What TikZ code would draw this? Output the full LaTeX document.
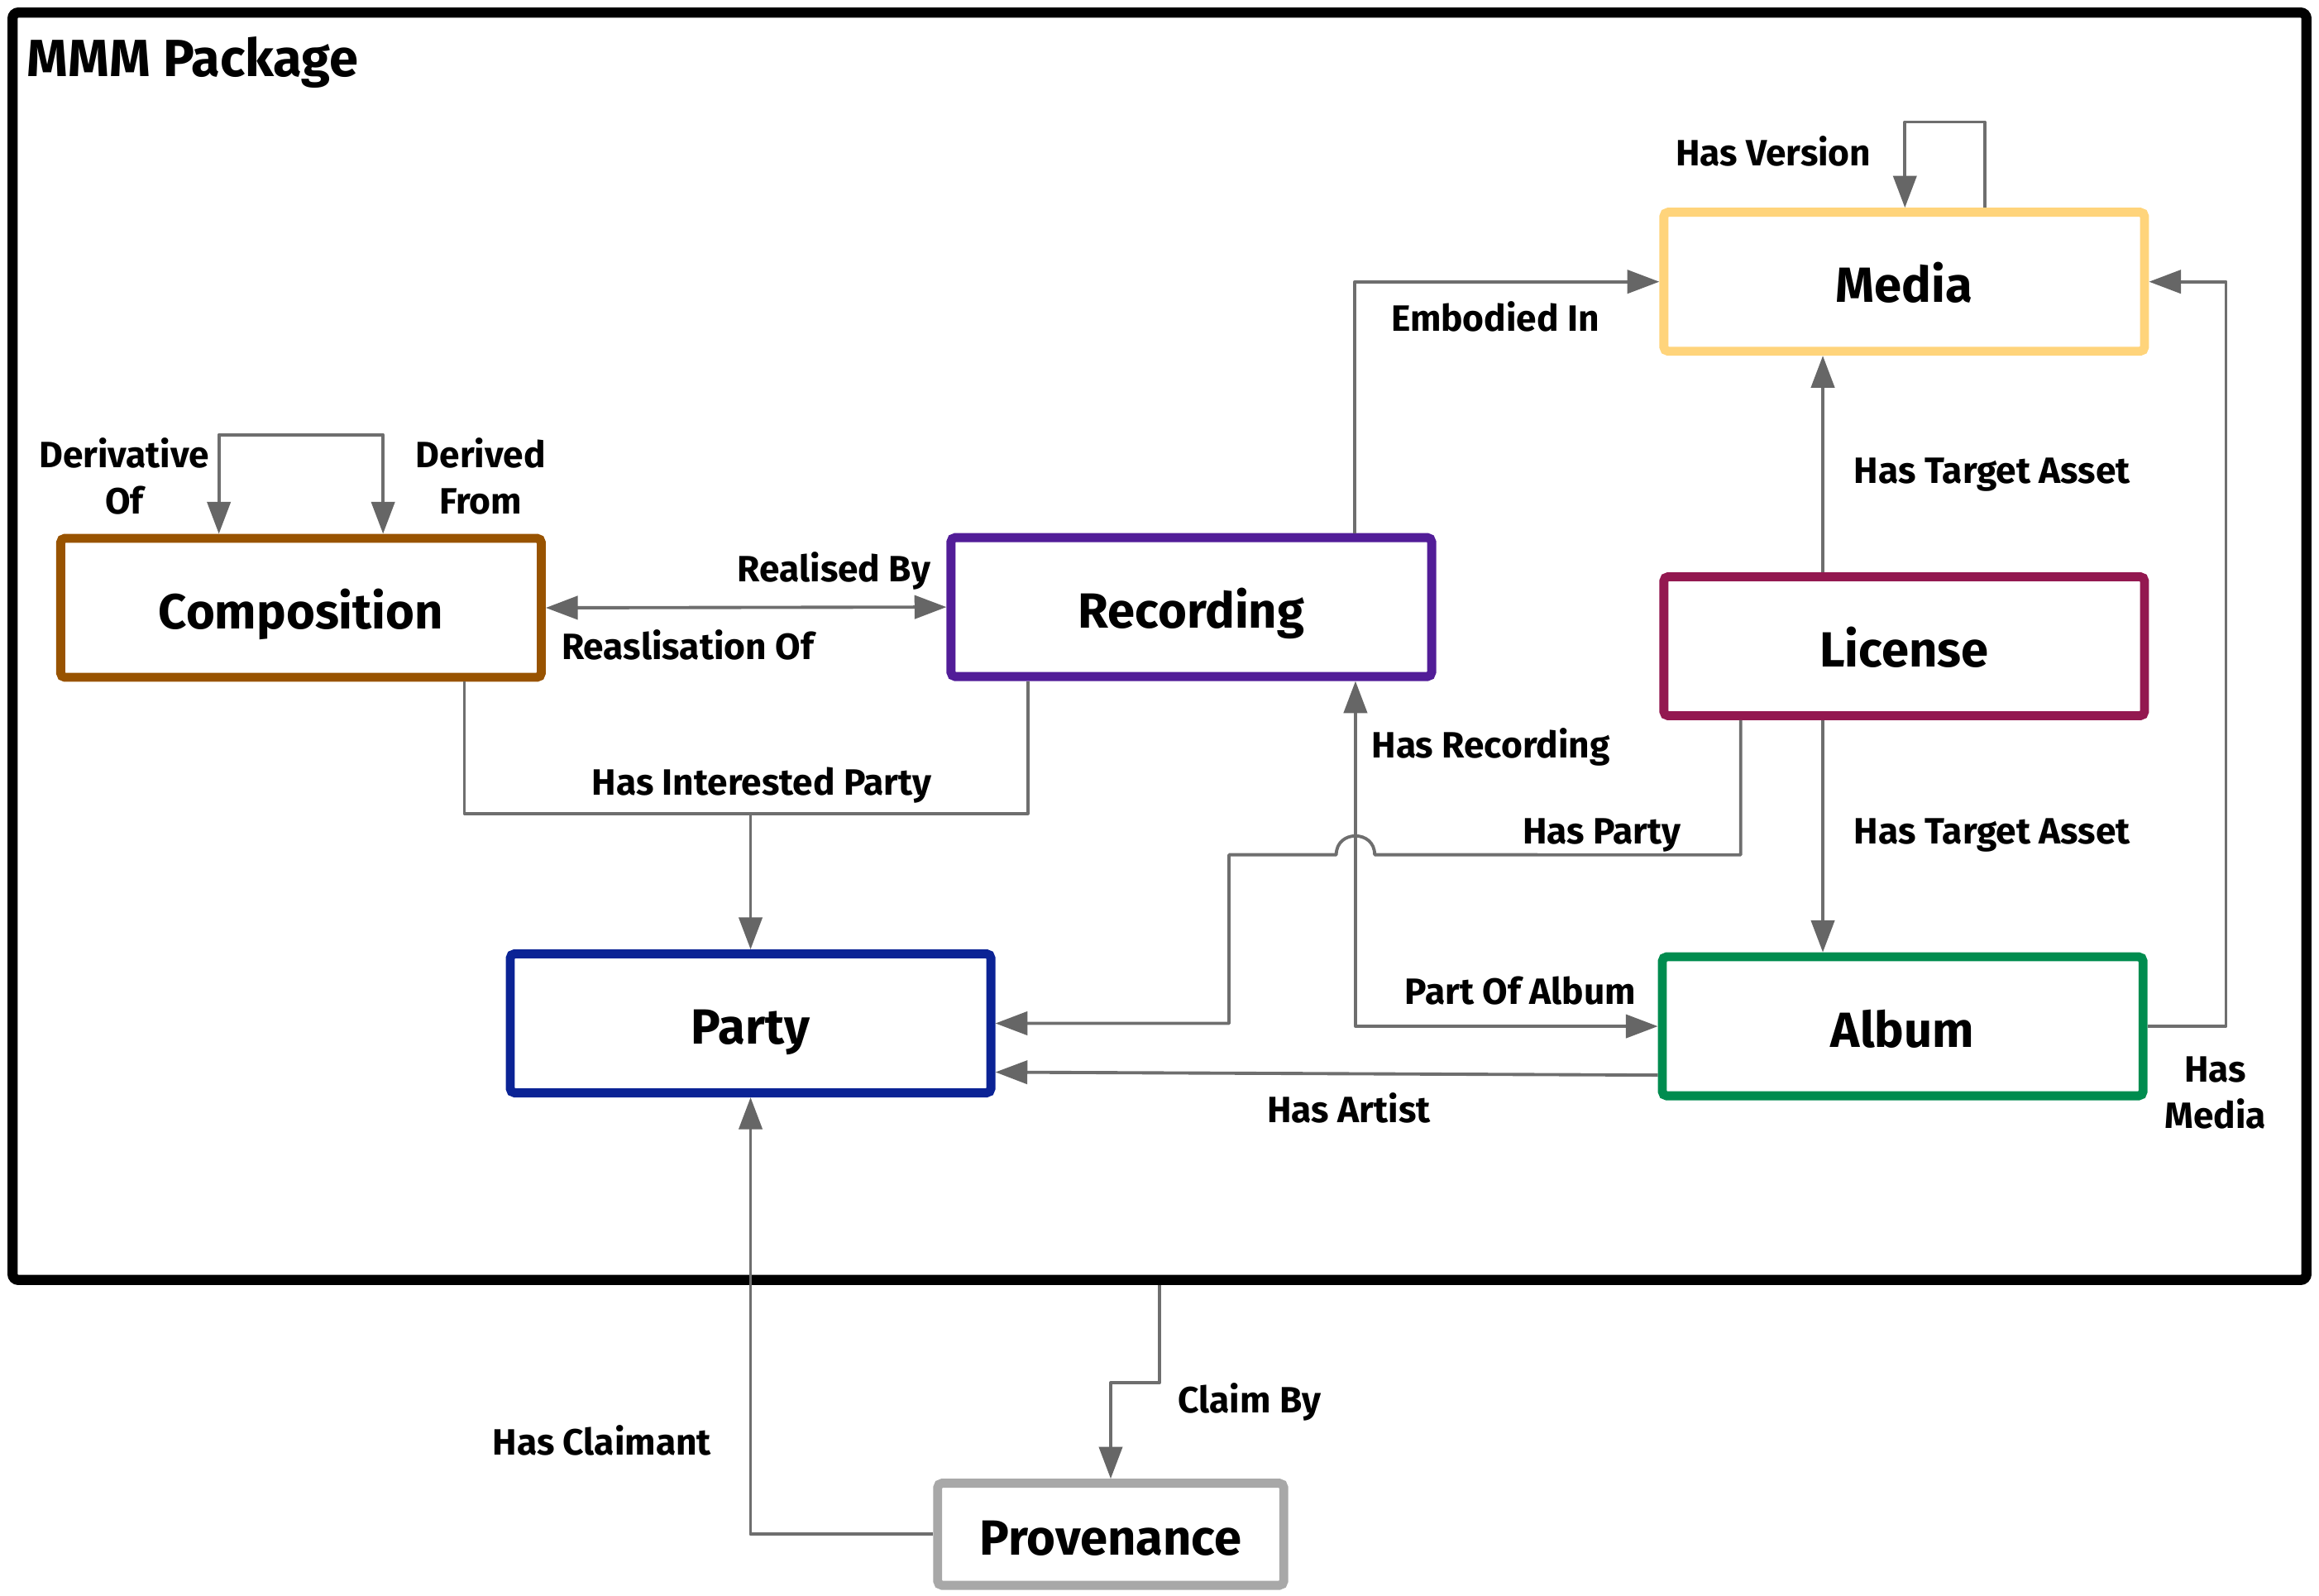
\documentclass[tikz,border=0pt]{standalone}
\usepackage{fontspec}
\setmainfont{Fira Sans}
\usetikzlibrary{arrows.meta,calc}
\def\sc{0.017883}
\definecolor{cMedia}{HTML}{FFD47B}
\definecolor{cComp}{HTML}{985300}
\definecolor{cRec}{HTML}{521D98}
\definecolor{cLic}{HTML}{931850}
\definecolor{cParty}{HTML}{0B2395}
\definecolor{cAlbum}{HTML}{008C4F}
\definecolor{cProv}{HTML}{A8A8A8}
\definecolor{cLine}{HTML}{6E6E6E}
\definecolor{cTip}{HTML}{666666}
\tikzset{
  entity/.style={draw, line width=3.1pt, rounded corners=1.5pt, fill=white,
    minimum width=325*\sc cm, minimum height=94*\sc cm, inner sep=0pt,
    text height=14.3pt, text depth=0pt,
    font=\fontsize{17}{20}\selectfont\bfseries},
  conn/.style={draw=cLine, line width=1.1pt, line join=round,
    -{Triangle[length=11pt,width=8pt,color=cTip]}},
  conn2/.style={draw=cLine, line width=1.1pt, line join=round,
    {Triangle[length=11pt,width=8pt,color=cTip]}-{Triangle[length=11pt,width=8pt,color=cTip]}},
  plain/.style={draw=cLine, line width=1.1pt, line join=round},
  lbl/.style={font=\fontsize{12.6}{16}\selectfont\bfseries, align=center, inner sep=0pt, yshift=-2*\sc cm},
}
\begin{document}
\begin{tikzpicture}[x=\sc cm, y=-\sc cm]
\useasboundingbox (0,0) rectangle (1568,1079);
% package frame
\node[draw=black, line width=3.5pt, rounded corners=2pt, minimum width=1551*\sc cm,
  minimum height=857*\sc cm, inner sep=0pt] (pkg) at (784,437) {};
\node[anchor=west, font=\fontsize{18}{22}\selectfont\bfseries, inner sep=0pt] (title) at (18,42) {MMM Package};
% entities
\node[entity, draw=cMedia] (media) at (1287.5,190.5) {Media};
\node[entity, draw=cComp] (comp) at (203.5,411) {Composition};
\node[entity, draw=cRec] (rec) at (805.5,410.5) {Recording};
\node[entity, draw=cLic] (lic) at (1287.5,437) {License};
\node[entity, draw=cParty] (party) at (507.5,692) {Party};
\node[entity, draw=cAlbum] (album) at (1286.5,694) {Album};
\node[entity, draw=cProv, minimum width=234*\sc cm, minimum height=69*\sc cm] (prov) at (751,1037.5) {Provenance};
% connectors
\draw[conn] ($(media.north)+(54.5,0)$) -- ++(0,-58) -| ($(media.north)+(0.5,0)$);
\draw[conn] ($(rec.north)+(110.5,0)$) |- (media.west);
\draw[conn2] ($(comp.north)+(-55.5,0)$) -- ++(0,-67) -| ($(comp.north)+(55.5,0)$);
\draw[conn2] (comp.east) -- (rec.west);
\draw[plain] ($(comp.south)+(110.5,0)$) -- ++(0,89) coordinate (hip) -| ($(rec.south)+(-110.5,0)$);
\draw[conn] (party.north |- hip) -- (party.north);
\draw[conn2] ($(rec.south)+(111,0)$) |- (album.west);
\draw[conn] ($(lic.south)+(-110.5,0)$) -- ++(0,91) -- (929.5,578)
  .. controls (929.5,561) and (903.5,561) .. (903.5,578) -- (831,578) |- (party.east);
\draw[conn] ($(lic.north)+(-55,0)$) -- ($(media.south)+(-55,0)$);
\draw[conn] ($(lic.south)+(-55,0)$) -- ($(album.north)+(-54,0)$);
\draw[conn] (album.east) -- ++(53,0) |- (media.east);
\draw[conn] ($(album.west)+(0,33)$) -- ($(party.east)+(0,33)$);
\draw[conn] (prov.west) -| (party.south);
\draw[conn] (pkg.south) -- ++(0,66) -| (prov.north);
% labels
\node[lbl] (lHasVersion) at (1199,100) {Has Version};
\node[lbl] (lEmbodied) at (1011,212) {Embodied In};
\node[lbl] (lDerivative) at (84,320) {Derivative\\Of};
\node[lbl] (lDerived) at (325,320) {Derived\\From};
\node[lbl] (lRealised) at (564,384) {Realised By};
\node[lbl] (lRealisation) at (465,434) {Reaslisation Of};
\node[lbl] (lInterested) at (515,529) {Has Interested Party};
\node[lbl] (lHasRec) at (1008,503) {Has Recording};
\node[lbl] (lHasParty) at (1083,563) {Has Party};
\node[lbl] (lPartOf) at (1028,668) {Part Of Album};
\node[lbl] (lTarget1) at (1347,319) {Has Target Asset};
\node[lbl] (lTarget2) at (1347,563) {Has Target Asset};
\node[lbl] (lHasMedia) at (1498,737) {Has\\Media};
\node[lbl] (lArtist) at (912,747) {Has Artist};
\node[lbl] (lClaimant) at (407,972) {Has Claimant};
\node[lbl] (lClaim) at (845,946) {Claim By};
\end{tikzpicture}
\end{document}
